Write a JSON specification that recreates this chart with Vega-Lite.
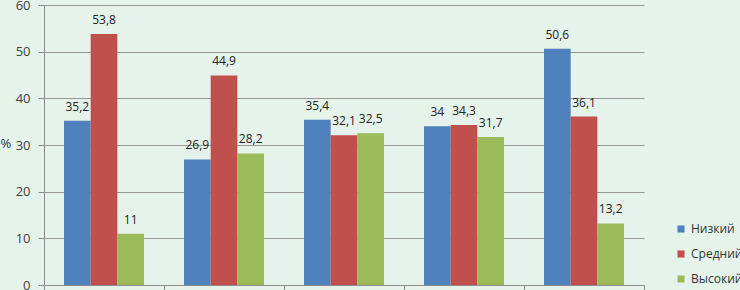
{
  "$schema": "https://vega.github.io/schema/vega-lite/v6.json",
  "width": 600,
  "height": 280,
  "autosize": {"type": "none"},
  "padding": {"left": 44, "top": 5, "right": 96, "bottom": 5},
  "background": "#e6f3ea",
  "config": {
    "view": {"stroke": null},
    "font": "Open Sans"
  },
  "data": {
    "values": [
      {"group": "1", "level": "Низкий", "value": 35.2, "label": "35,2"},
      {"group": "1", "level": "Средний", "value": 53.8, "label": "53,8"},
      {"group": "1", "level": "Высокий", "value": 11, "label": "11"},
      {"group": "2", "level": "Низкий", "value": 26.9, "label": "26,9"},
      {"group": "2", "level": "Средний", "value": 44.9, "label": "44,9"},
      {"group": "2", "level": "Высокий", "value": 28.2, "label": "28,2"},
      {"group": "3", "level": "Низкий", "value": 35.4, "label": "35,4"},
      {"group": "3", "level": "Средний", "value": 32.1, "label": "32,1"},
      {"group": "3", "level": "Высокий", "value": 32.5, "label": "32,5"},
      {"group": "4", "level": "Низкий", "value": 34, "label": "34"},
      {"group": "4", "level": "Средний", "value": 34.3, "label": "34,3"},
      {"group": "4", "level": "Высокий", "value": 31.7, "label": "31,7"},
      {"group": "5", "level": "Низкий", "value": 50.6, "label": "50,6"},
      {"group": "5", "level": "Средний", "value": 36.1, "label": "36,1"},
      {"group": "5", "level": "Высокий", "value": 13.2, "label": "13,2"}
    ]
  },
  "encoding": {
    "x": {
      "field": "group",
      "type": "nominal",
      "scale": {"paddingInner": 0, "paddingOuter": 0},
      "axis": {
        "title": null,
        "labels": false,
        "tickBand": "extent",
        "tickSize": 5,
        "tickColor": "#8c8c8c",
        "domainColor": "#8c8c8c",
        "grid": false
      }
    },
    "xOffset": {"field": "level", "type": "nominal", "sort": ["Низкий", "Средний", "Высокий"], "scale": {"paddingInner": 0, "paddingOuter": 0.75}},
    "y": {
      "field": "value",
      "type": "quantitative",
      "scale": {"domain": [0, 60], "nice": false},
      "axis": {
        "values": [0, 10, 20, 30, 40, 50, 60],
        "title": "%",
        "titleAngle": 0,
        "titleX": -44,
        "titleY": 138,
        "titleAlign": "left",
        "titleBaseline": "middle",
        "titleFontSize": 13,
        "titleFontWeight": "normal",
        "titleColor": "#333333",
        "labelFontSize": 13,
        "labelColor": "#404040",
        "labelPadding": 8,
        "tickSize": 6,
        "tickColor": "#8c8c8c",
        "domainColor": "#8c8c8c",
        "gridColor": "#8c8c8c",
        "gridOpacity": 0.9
      }
    }
  },
  "layer": [
    {
      "mark": {"type": "bar"},
      "encoding": {
        "color": {
          "field": "level",
          "type": "nominal",
          "sort": ["Низкий", "Средний", "Высокий"],
          "scale": {"domain": ["Низкий", "Средний", "Высокий"], "range": ["#4f81bd", "#c0504d", "#9bbb59"]},
          "legend": {
            "title": null,
            "orient": "none",
            "legendX": 631,
            "legendY": 218,
            "symbolType": "square",
            "symbolSize": 50,
            "symbolStrokeWidth": 0,
            "labelFontSize": 12,
            "labelColor": "#333333",
            "rowPadding": 13,
            "labelOffset": 4
          }
        }
      }
    },
    {
      "mark": {"type": "text", "baseline": "bottom", "dy": -7, "fontSize": 12, "color": "#222222"},
      "encoding": {"text": {"field": "label"}}
    }
  ]
}
